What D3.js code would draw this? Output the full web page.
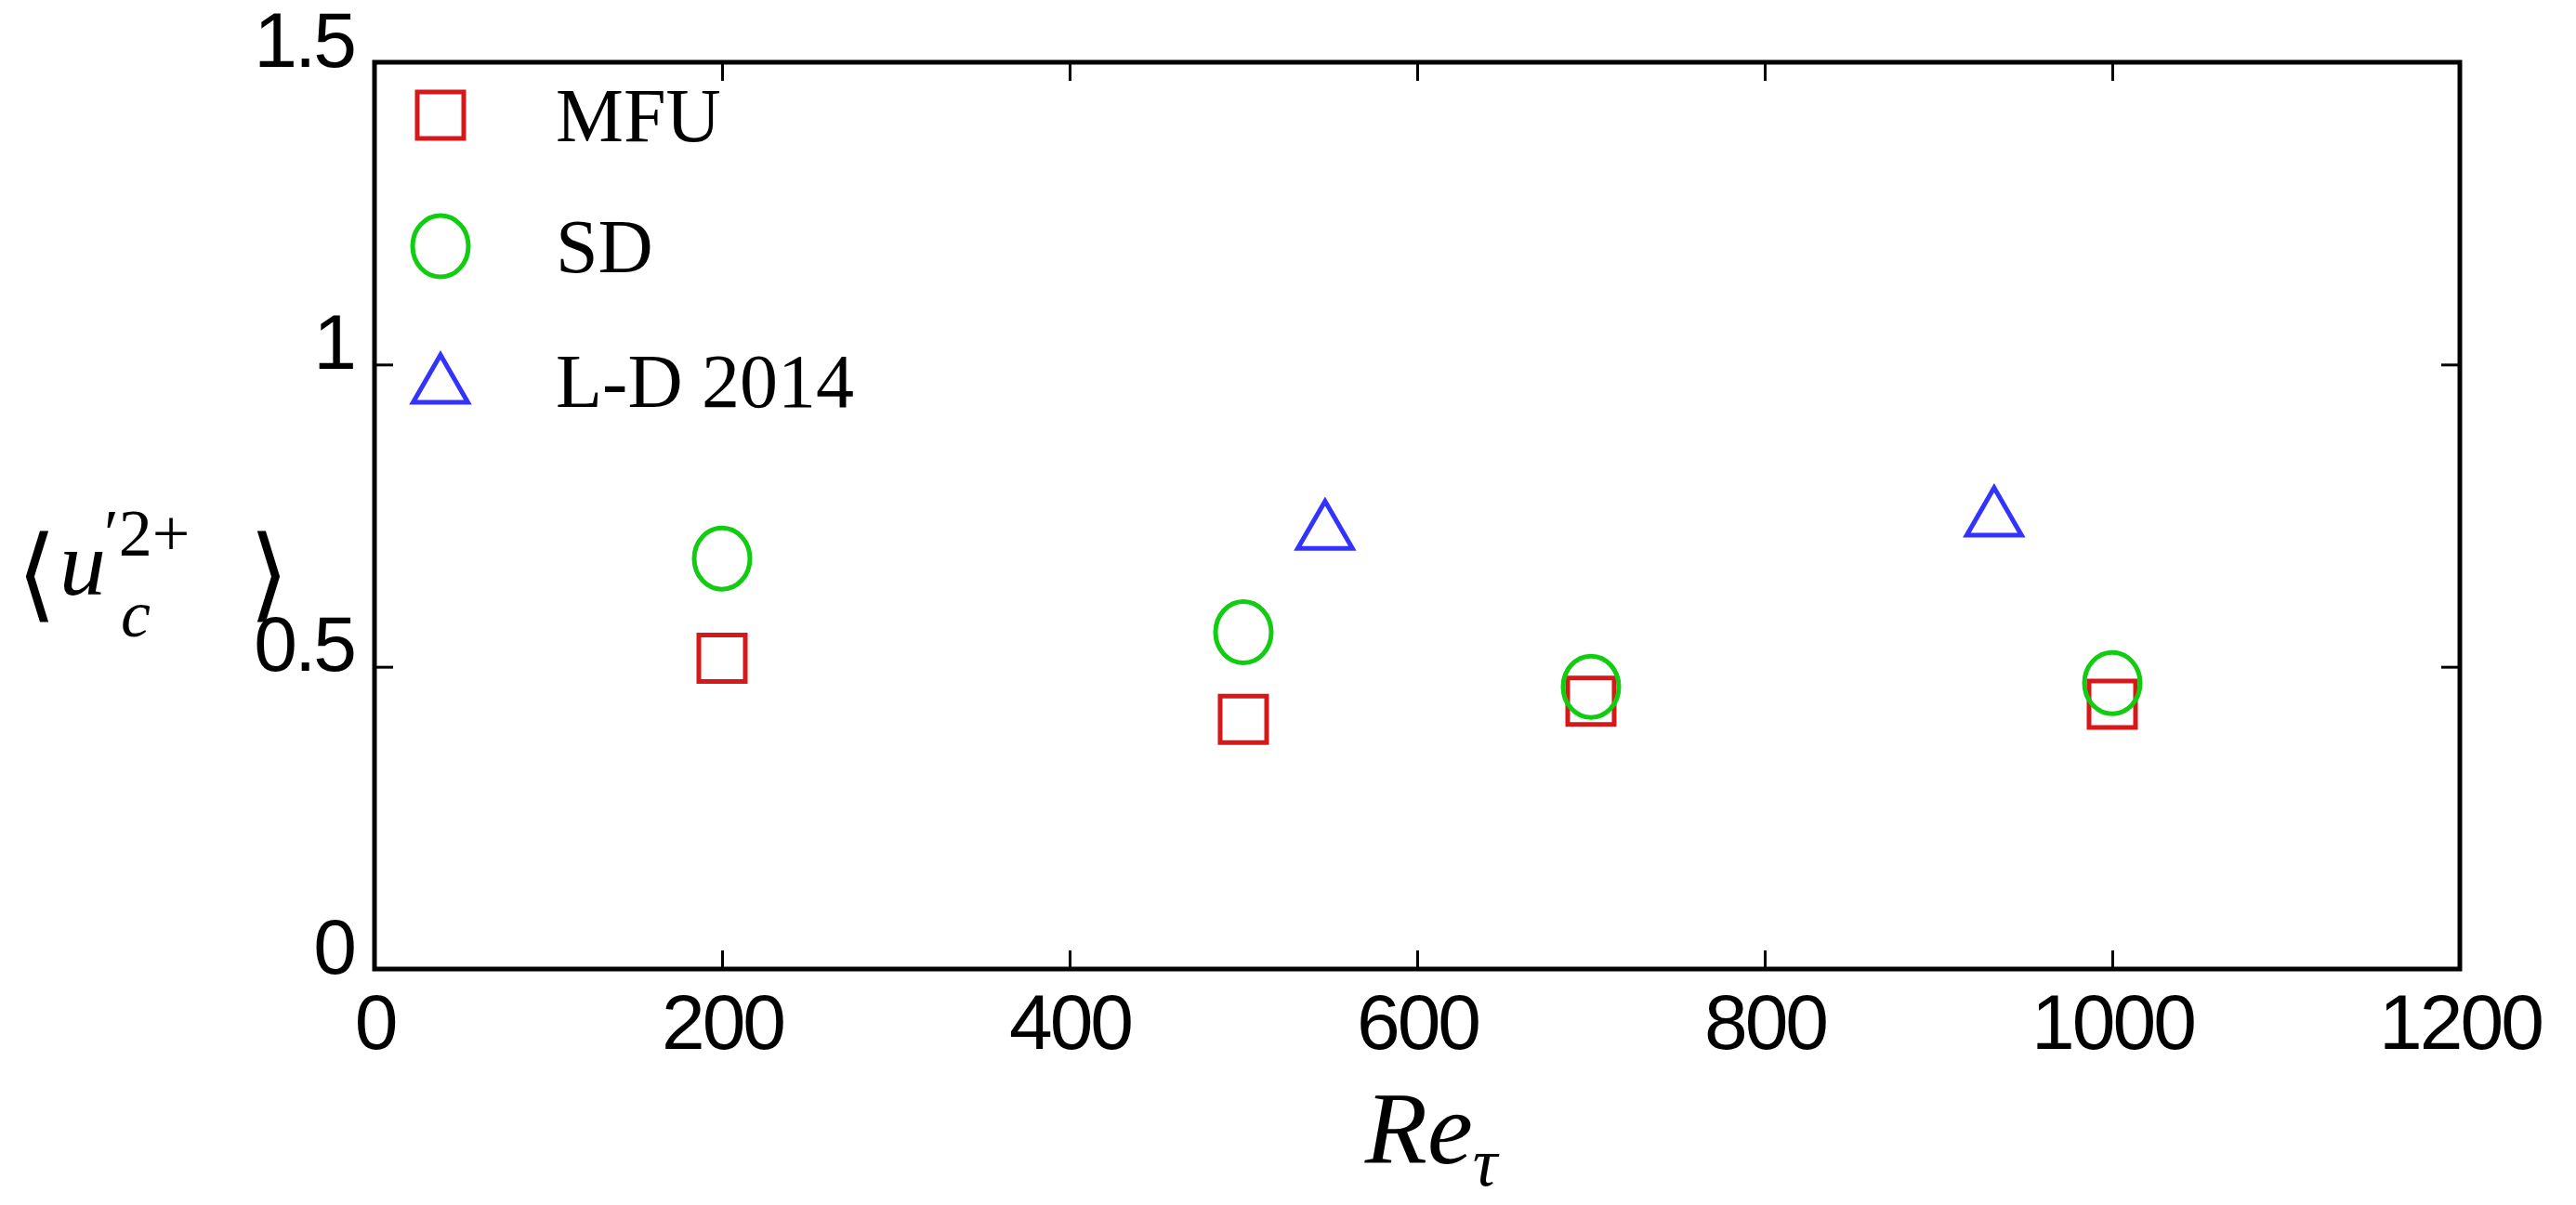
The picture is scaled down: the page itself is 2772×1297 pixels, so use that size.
<!DOCTYPE html>
<html><head><meta charset="utf-8">
<script src="https://cdn.jsdelivr.net/npm/d3@7"></script>
<style>body{margin:0;background:#fff}</style>
</head><body><svg id="c" width="2772" height="1297"></svg>
<script>
const xTicks=[0,200,400,600,800,1000,1200];
const yTicks=[0,0.5,1,1.5];
const mfuX=[200,500,700,1000], mfuY=[0.514,0.413,0.443,0.438];
const sdX=[200,500,700,1000], sdY=[0.679,0.557,0.467,0.473];
const ldX=[547,932], ldY=[0.731,0.753];
const seriesNames=["MFU","SD","L-D 2014"];

const svg=d3.select("#c");
const L=403,R=2647,T=67,B=1043;
const x=d3.scaleLinear().domain([0,1200]).range([L,R]);
const y=d3.scaleLinear().domain([0,1.5]).range([B,T]);
const tf="'Liberation Sans',Arial,sans-serif";
const tk=20;
const fmt=d=>String(d);
const ax=(g)=>{g.selectAll("path").remove();g.selectAll("line").attr("stroke","#000").attr("stroke-width",3);};
svg.append("g").attr("transform",`translate(0,${B})`).call(d3.axisBottom(x).tickValues(xTicks).tickFormat(fmt).tickSize(-tk).tickPadding(26)).call(ax)
 .selectAll("text").attr("font-family",tf).attr("font-size",84).attr("fill","#000").attr("dy","0.71em").attr("letter-spacing",-3);
svg.append("g").attr("transform",`translate(0,${T})`).call(d3.axisTop(x).tickValues(xTicks).tickFormat("").tickSize(-tk)).call(ax);
svg.append("g").attr("transform",`translate(${L},0)`).call(d3.axisLeft(y).tickValues(yTicks).tickFormat(fmt).tickSize(-tk).tickPadding(22)).call(ax)
 .selectAll("text").attr("font-family",tf).attr("font-size",84).attr("fill","#000").attr("dy","0.05em").attr("letter-spacing",-3);
svg.append("g").attr("transform",`translate(${R},0)`).call(d3.axisRight(y).tickValues(yTicks).tickFormat("").tickSize(-tk)).call(ax);
svg.append("rect").attr("x",L).attr("y",T).attr("width",R-L).attr("height",B-T).attr("fill","none").attr("stroke","#000").attr("stroke-width",5);

const sq=d3.symbol().type(d3.symbolSquare).size(2500);
const tri=d3.symbol().type(d3.symbolTriangle).size(1500);
const g=svg.append("g");
g.selectAll(".s").data(mfuX.map((v,i)=>[v,mfuY[i]])).join("path").attr("d",sq)
 .attr("transform",d=>`translate(${x(d[0])},${y(d[1])})`).attr("fill","none").attr("stroke","#d81818").attr("stroke-width",5);
g.selectAll(".c").data(sdX.map((v,i)=>[v,sdY[i]])).join("ellipse")
 .attr("cx",d=>x(d[0])).attr("cy",d=>y(d[1])).attr("rx",30).attr("ry",33).attr("fill","none").attr("stroke","#11cc11").attr("stroke-width",5);
g.selectAll(".t").data(ldX.map((v,i)=>[v,ldY[i]])).join("path").attr("d",tri)
 .attr("transform",d=>`translate(${x(d[0])},${y(d[1])+6})`).attr("fill","none").attr("stroke","#3333ff").attr("stroke-width",5);

// legend
const lx=474, ly=[124,265,410], tx=598;
svg.append("path").attr("d",sq).attr("transform",`translate(${lx},${ly[0]})`).attr("fill","none").attr("stroke","#d81818").attr("stroke-width",5);
svg.append("ellipse").attr("cx",lx).attr("cy",ly[1]).attr("rx",30).attr("ry",33).attr("fill","none").attr("stroke","#11cc11").attr("stroke-width",5);
svg.append("path").attr("d",tri).attr("transform",`translate(${lx},${ly[2]+6})`).attr("fill","none").attr("stroke","#3333ff").attr("stroke-width",5);
seriesNames.forEach((n,i)=>svg.append("text").attr("x",tx).attr("y",ly[i]+28).text(n)
 .attr("font-family","'Liberation Serif','Times New Roman',serif").attr("font-size",82).attr("fill","#000"));

// axis labels
const mf="'Liberation Serif','Times New Roman',serif";
const lab=(t,xx,yy,fs,it)=>svg.append("text").attr("x",xx).attr("y",yy).attr("font-family",mf).attr("font-size",fs).attr("font-style",it?"italic":"normal").attr("fill","#000").text(t);
lab("⟨",18,655,110,false);
lab("u",64,640,100,true);
lab("′2+",112,598,72,false);
lab("c",130,685,72,true);
lab("⟩",268,655,110,false);
const xl=svg.append("text").attr("x",1540).attr("y",1252).attr("text-anchor","middle").attr("font-family",mf).attr("font-size",110).attr("fill","#000");
xl.append("tspan").attr("font-style","italic").text("Re");
xl.append("tspan").attr("font-style","italic").attr("font-size",74).attr("dy",24).text("τ");
</script></body></html>
